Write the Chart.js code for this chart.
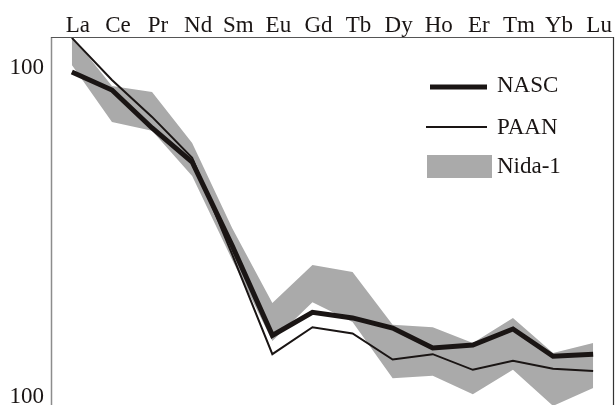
<!DOCTYPE html>
<html>
<head>
<meta charset="utf-8">
<script src="https://cdn.jsdelivr.net/npm/chart.js@4.4.1/dist/chart.umd.min.js"></script>
<style>
  html, body { margin: 0; padding: 0; background: #fff; overflow: hidden; }
  #wrap { width: 615px; height: 405px; position: relative; }
</style>
</head>
<body>
<div id="wrap"><canvas id="c" width="615" height="405"></canvas></div>
<script>
// Rare earth elements, chondrite-normalised patterns
const elements = ['La', 'Ce', 'Pr', 'Nd', 'Sm', 'Eu', 'Gd', 'Tb', 'Dy', 'Ho', 'Er', 'Tm', 'Yb', 'Lu'];
const nasc     = [97.2, 85.7, 65.7, 51.8, 28.8, 15.4, 18.1, 17.4, 16.2, 14.1, 14.4, 16.1, 13.3, 13.5];
const paan     = [123.4, 91.9, 71.0, 53.3, 27.1, 13.5, 16.3, 15.6, 13.0, 13.5, 12.1, 12.9, 12.2, 12.0];
const nidaMax  = [125.1, 88.2, 84.5, 59.2, 32.6, 19.3, 25.2, 24.0, 16.6, 16.3, 14.6, 17.4, 13.6, 14.6];
const nidaMin  = [102.1, 68.5, 64.4, 47.0, 26.1, 14.8, 19.4, 16.9, 11.4, 11.6, 10.2, 12.1, 9.4, 10.65];
const yTickValues = [10, 100];
const yTickLabels = ['100', '100'];

const SERIF = "'Liberation Serif', 'Times New Roman', serif";
const INK = '#1a1514';
const BAND = '#aaaaaa';

const pts = arr => arr.map((v, i) => ({ x: i, y: v }));

// Frame lines around the plotting area
const framePlugin = {
  id: 'frame',
  afterDraw(chart) {
    const { ctx, chartArea: a } = chart;
    ctx.save();
    ctx.lineWidth = 1.5;
    ctx.strokeStyle = '#8c8c8c';
    ctx.beginPath(); ctx.moveTo(a.left + 0.5, a.top); ctx.lineTo(a.left + 0.5, a.bottom); ctx.stroke();
    ctx.lineWidth = 1.2;
    ctx.strokeStyle = '#555555';
    ctx.beginPath(); ctx.moveTo(a.left, a.top + 0.5); ctx.lineTo(a.right, a.top + 0.5); ctx.stroke();
    ctx.strokeStyle = '#333333';
    ctx.beginPath(); ctx.moveTo(a.right - 0.5, a.top); ctx.lineTo(a.right - 0.5, a.bottom); ctx.stroke();
    ctx.restore();
  }
};

// Legend drawn inside the plot, upper right
const innerLegend = {
  id: 'innerLegend',
  afterDraw(chart) {
    const { ctx } = chart;
    const ds = chart.data.datasets;
    ctx.save();
    ctx.font = '23px ' + SERIF;
    ctx.fillStyle = INK;
    ctx.textBaseline = 'middle';
    ctx.textAlign = 'left';
    // NASC
    ctx.strokeStyle = ds[0].borderColor; ctx.lineWidth = ds[0].borderWidth;
    ctx.beginPath(); ctx.moveTo(430, 87); ctx.lineTo(487, 87); ctx.stroke();
    ctx.fillText(ds[0].label, 497, 86);
    // PAAN
    ctx.strokeStyle = ds[1].borderColor; ctx.lineWidth = ds[1].borderWidth;
    ctx.beginPath(); ctx.moveTo(426, 127); ctx.lineTo(487, 127); ctx.stroke();
    ctx.fillText(ds[1].label, 497, 128);
    // Nida-1 range band
    ctx.fillStyle = ds[2].backgroundColor;
    ctx.fillRect(427, 155, 65, 23);
    ctx.fillStyle = INK;
    ctx.fillText(ds[2].label, 497, 167);
    ctx.restore();
  }
};

new Chart(document.getElementById('c'), {
  type: 'line',
  data: {
    datasets: [
      { label: 'NASC', data: pts(nasc), borderColor: INK, borderWidth: 5, pointRadius: 0,
        borderJoinStyle: 'miter', tension: 0, fill: false },
      { label: 'PAAN', data: pts(paan), borderColor: INK, borderWidth: 2, pointRadius: 0,
        borderJoinStyle: 'miter', tension: 0, fill: false },
      { label: 'Nida-1', data: pts(nidaMax), borderWidth: 0, borderColor: 'rgba(0,0,0,0)',
        backgroundColor: BAND, pointRadius: 0, tension: 0, fill: '+1' },
      { label: 'Nida-1 min', data: pts(nidaMin), borderWidth: 0, borderColor: 'rgba(0,0,0,0)',
        backgroundColor: BAND, pointRadius: 0, tension: 0, fill: false }
    ]
  },
  options: {
    responsive: false,
    animation: false,
    devicePixelRatio: 1,
    layout: { padding: { left: 0, right: 1, top: 0, bottom: 0 } },
    plugins: { legend: { display: false }, tooltip: { enabled: false } },
    scales: {
      x: {
        type: 'linear',
        position: 'top',
        min: -0.52,
        max: 13.52,
        grid: { display: false, drawTicks: false },
        border: { display: false },
        afterBuildTicks: s => { s.ticks = elements.map((_, i) => ({ value: i })); },
        afterFit: s => { s.height = 37; s.paddingLeft = 0; s.paddingRight = 0; },
        ticks: {
          autoSkip: false, maxRotation: 0, padding: -3, labelOffset: 6,
          color: INK, font: { family: SERIF, size: 23 },
          callback: v => elements[v]
        }
      },
      y: {
        type: 'logarithmic',
        min: 9.46,
        max: 124.2,
        grid: { display: false, drawTicks: false },
        border: { display: false },
        afterBuildTicks: s => { s.ticks = yTickValues.map(v => ({ value: v })); },
        afterFit: s => { s.width = 51; s.paddingTop = 0; s.paddingBottom = 0; },
        ticks: {
          padding: 7, color: INK, font: { family: SERIF, size: 23 },
          callback: (v, i) => yTickLabels[i]
        }
      }
    }
  },
  plugins: [framePlugin, innerLegend]
});
</script>
</body>
</html>
